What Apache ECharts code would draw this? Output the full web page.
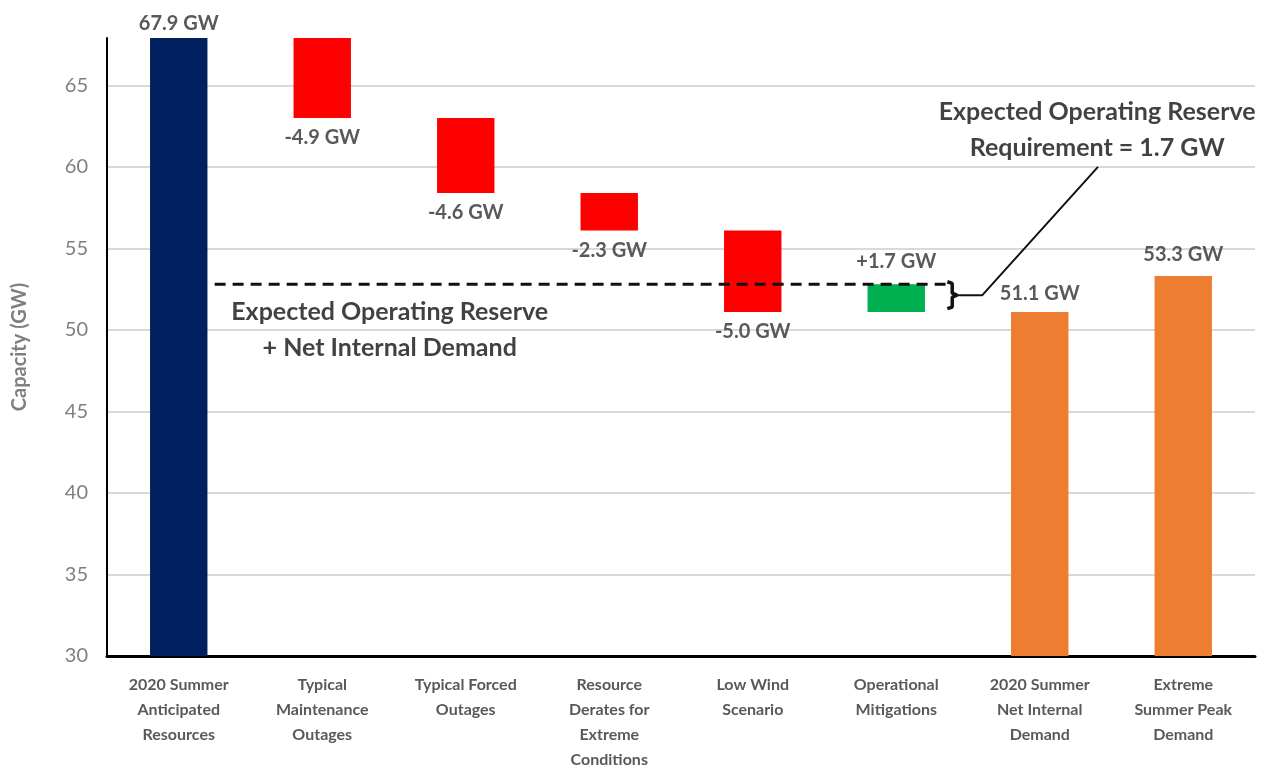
<!DOCTYPE html>
<html>
<head>
<meta charset="utf-8">
<script src="https://cdn.jsdelivr.net/npm/echarts@6/dist/echarts.min.js"></script>
<style>
html,body{margin:0;padding:0;background:#fff;}
#chart{width:1263px;height:772px;}
</style>
</head>
<body>
<div id="chart"></div>
<script>
const categories = [
  "2020 Summer\nAnticipated\nResources",
  "Typical\nMaintenance\nOutages",
  "Typical Forced\nOutages",
  "Resource\nDerates for\nExtreme\nConditions",
  "Low Wind\nScenario",
  "Operational\nMitigations",
  "2020 Summer\nNet Internal\nDemand",
  "Extreme\nSummer Peak\nDemand"
];
const totals  = [67.9, null, null, null, null, null, 51.1, 53.3];
const changes = [null, -4.9, -4.6, -2.3, -5.0, 1.7, null, null];
const barColors = ["#002060", "#ff0000", "#ff0000", "#ff0000", "#ff0000", "#00b050", "#ed7d31", "#ed7d31"];
const reserveLevel = 52.8;          // Expected Operating Reserve + Net Internal Demand
const reserveRequirement = 1.7;
const yTicks = [30, 35, 40, 45, 50, 55, 60, 65];

// waterfall geometry from the values
const baseData = [], barData = [];
let level = 0;
for (let i = 0; i < categories.length; i++) {
  if (totals[i] !== null) {
    level = totals[i];
    baseData.push(0);
    barData.push({
      value: totals[i],
      itemStyle: { color: barColors[i] },
      label: { show: true, position: 'top', distance: i === 6 ? 8 : (i === 0 ? 4 : 12), formatter: totals[i].toFixed(1) + ' GW' }
    });
  } else {
    const c = changes[i];
    const lo = Math.min(level, level + c), hi = Math.max(level, level + c);
    baseData.push(+lo.toFixed(2));
    barData.push({
      value: +(hi - lo).toFixed(2),
      itemStyle: { color: barColors[i] },
      label: {
        show: true,
        position: c < 0 ? 'bottom' : 'top',
        distance: c < 0 ? 10 : 13,
        formatter: (c > 0 ? '+' : '') + c.toFixed(1) + ' GW'
      }
    });
    level += c;
  }
}

const font = 'Lato, "Open Sans", sans-serif';
const chart = echarts.init(document.getElementById('chart'));
chart.setOption({
  animation: false,
  textStyle: { fontFamily: font },
  grid: { left: 107, right: 8, top: 38, bottom: 113 },
  xAxis: [{
    type: 'category',
    data: categories,
    axisLine: { lineStyle: { color: '#000', width: 3 } },
    axisTick: { show: false },
    axisLabel: { interval: 0, color: '#595959', fontSize: 16, fontWeight: 'bold', lineHeight: 25, margin: 16, fontFamily: font }
  }, {
    type: 'value', min: 0, max: 8, show: false
  }],
  yAxis: {
    type: 'value', min: yTicks[0], max: 67.9, interval: 5,
    name: 'Capacity (GW)', nameLocation: 'middle', nameGap: 77,
    nameTextStyle: { color: '#7f7f7f', fontSize: 20, fontWeight: 'bold', fontFamily: font },
    axisLine: { show: true, lineStyle: { color: '#000', width: 2 } },
    axisTick: { show: false },
    axisLabel: { color: '#7f7f7f', fontSize: 20, margin: 19, showMaxLabel: false, fontFamily: font,
      formatter: v => (yTicks.indexOf(v) >= 0 ? String(v) : '') },
    splitLine: { show: true, showMaxLine: false, lineStyle: { color: '#d9d9d9', width: 2 } }
  },
  series: [
    { type: 'bar', stack: 'w', data: baseData, barWidth: '40%', itemStyle: { color: 'transparent' }, silent: true },
    { type: 'bar', stack: 'w', data: barData, barWidth: '40%',
      label: { color: '#595959', fontSize: 20, fontWeight: 'bold', fontFamily: font } },
    { type: 'line', xAxisIndex: 1, data: [[0.75, reserveLevel], [5.88, reserveLevel]],
      symbol: 'none', lineStyle: { color: '#111', width: 3, type: [11, 7] }, z: 5 },
    { type: 'line', xAxisIndex: 1,
      data: [[5.856, 52.95], [5.89, 52.85], [5.89, 52.25], [5.923, 52.13], [5.89, 52.0], [5.89, 51.4], [5.856, 51.3]],
      symbol: 'none', lineStyle: { color: '#111', width: 3.5 }, z: 5 },
    { type: 'line', xAxisIndex: 1,
      data: [[5.923, 52.13], [6.10, 52.13], [6.906, 60.0]],
      symbol: 'none', lineStyle: { color: '#111', width: 2 }, z: 5 },
    { type: 'scatter', xAxisIndex: 1, symbolSize: 0,
      data: [
        { value: [1.97, 50.0], label: { formatter: 'Expected Operating Reserve\n+ Net Internal Demand' } },
        { value: [6.9, 62.26], label: { formatter: 'Expected Operating Reserve\nRequirement = ' + reserveRequirement.toFixed(1) + ' GW' } }
      ],
      label: { show: true, position: 'inside', color: '#111', fontSize: 25, fontWeight: 'bold', lineHeight: 36, align: 'center', fontFamily: font },
      z: 6 }
  ]
});
</script>
</body>
</html>
